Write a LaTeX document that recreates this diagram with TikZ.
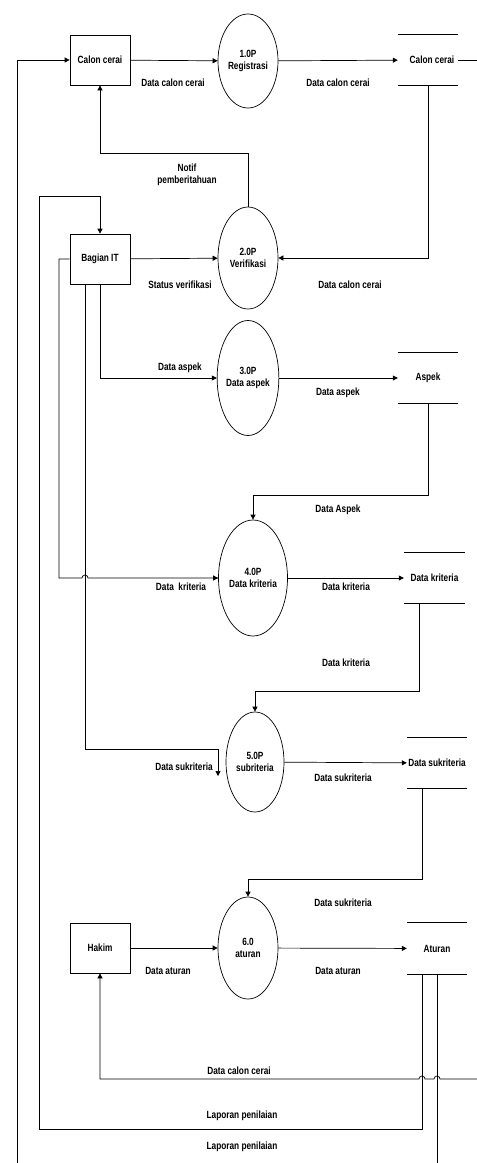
\documentclass[tikz,border=0pt]{standalone}
\usepackage{fontspec}
\setmainfont[FakeStretch=0.79]{Liberation Sans}
\usetikzlibrary{shapes.geometric,arrows.meta,calc}
\begin{document}
\begin{tikzpicture}[x=1bp,y=-1bp,
  every node/.style={font=\bfseries\fontsize{10.5}{12}\selectfont},
  flow/.style={line width=0.7bp,draw=black},
  arr/.style={flow,-{Triangle[length=5bp,width=5bp]}},
  entity/.style={draw,line width=0.7bp,minimum width=60bp,minimum height=50bp,inner sep=0pt},
  proc/.style={draw,line width=0.7bp,ellipse,inner sep=0pt,align=center},
  store/.style={minimum width=60bp,minimum height=50bp,inner sep=0pt},
  lbl/.style={inner sep=1bp,align=center}]
\useasboundingbox (0,0) rectangle (477,1163);
% entities
\node[entity] (cc) at (100,60) {Calon cerai};
\node[entity] (it) at (100,259) {Bagian IT};
\node[entity] (hk) at (100,948) {Hakim};
% processes
\node[proc,minimum width=60bp,minimum height=94bp] (p1) at (248,61) {1.0P\\Registrasi};
\node[proc,minimum width=60bp,minimum height=102bp] (p2) at (248,258) {2.0P\\Verifikasi};
\node[proc,minimum width=60bp,minimum height=115bp] (p3) at (248,378) {3.0P\\Data aspek};
\node[proc,minimum width=69bp,minimum height=116bp] (p4) at (253,578) {4.0P\\Data kriteria};
\node[proc,minimum width=58bp,minimum height=100bp] (p5) at (255,762) {5.0P\\subriteria};
\node[proc,minimum width=60bp,minimum height=102bp] (p6) at (248,948) {6.0\\aturan};
% stores
\node[store] (s1) at (428,60) {\hspace*{8bp}Calon cerai};
\node[store] (s3) at (428,378) {Aspek};
\node[store,minimum width=61bp] (s4) at (434.5,578) {Data kriteria};
\node[store] (s5) at (437,763) {Data sukriteria};
\node[store,minimum height=51bp] (s6) at (437,948.5) {Aturan};
\foreach \s in {s1,s3,s4,s5,s6}{
  \draw[flow] (\s.north west) -- (\s.north east) (\s.south west) -- (\s.south east);
}
% coordinates
\coordinate (rE1) at (477,60);
\coordinate (rE2) at (477,1079);
\coordinate (nb) at (248,153);
\coordinate (lpA) at (39,1129);
\coordinate (lpB) at (39,196);
\coordinate (lb2) at (17,1163);
\coordinate (lb3) at (437,1163);
\coordinate (c3) at (428,495);
\coordinate (c4) at (419,691);
\coordinate (c5) at (422,879);
\coordinate (itw) at (59,259);
\coordinate (itk) at (59,578);
\coordinate (its) at (85,749);
\coordinate (itsE) at (218,749);
\coordinate (itsA) at (218,776);
% flows
\draw[arr] (lb2) |- (cc.west);
\draw[arr] (cc) -- (p1);
\draw[arr] (p1) -- (s1);
\draw[flow] (s1.east) -- (rE1);
\draw[arr] (s1.south) |- (p2);
\draw[arr] (p2.north) -- (nb) -| (cc.south);
\draw[arr] (it) -- (p2);
\draw[arr] (it.south) |- (p3);
\draw[arr] (p3) -- (s3);
\draw[arr] (s3.south) -- (c3) -| (p4.north);
\draw[flow] (it.west) -- (itw) -- (itk) -- (82,578) arc (-180:0:3) -- (p4.west);
\draw[arr] (p4.west) ++(-1,0) -- (p4.west);
\draw[flow] (85,285) -- (its) -- (itsE);
\draw[arr] (itsE) -- (itsA);
\draw[arr] (p4) -- (s4);
\draw[arr] ($(s4.south)+(-15.5,0)$) -- (c4) -| (p5.north);
\draw[arr] (p5) -- (s5);
\draw[arr] ($(s5.south)+(-15,0)$) -- (c5) -| (p6.north);
\draw[arr] (hk) -- (p6);
\draw[arr] (p6) -- (s6);
\draw[arr] (rE2) -- (440,1079) arc (0:-180:3) -- (425,1079) arc (0:-180:3) -| (hk.south);
\draw[arr] ($(s6.south)+(-15,0)$) |- (lpA) -- (lpB) -| (it.north);
\draw[flow] (s6.south) -- (lb3);
% labels
\node[lbl] (l1) at (173,83) {Data calon cerai};
\node[lbl] (l2) at (338,83) {Data calon cerai};
\node[lbl] (l3) at (187,175) {Notif\\pemberitahuan};
\node[lbl] (l4) at (180,285) {Status verifikasi};
\node[lbl] (l5) at (350,285) {Data calon cerai};
\node[lbl] (l6) at (180,368) {Data aspek};
\node[lbl] (l7) at (338,393) {Data aspek};
\node[lbl] (l8) at (338,510) {Data Aspek};
\node[lbl] (l9) at (181,587) {Data\ \ kriteria};
\node[lbl] (l10) at (346,587) {Data kriteria};
\node[lbl] (l11) at (346,663) {Data kriteria};
\node[lbl] (l12) at (184,767) {Data sukriteria};
\node[lbl] (l13) at (343,778) {Data sukriteria};
\node[lbl] (l14) at (343,903) {Data sukriteria};
\node[lbl] (l15) at (168,971) {Data aturan};
\node[lbl] (l16) at (338,971) {Data aturan};
\node[lbl] (l17) at (239,1071) {Data calon cerai};
\node[lbl] (l18) at (242,1116) {Laporan penilaian};
\node[lbl] (l19) at (242,1147) {Laporan penilaian};
\end{tikzpicture}
\end{document}
